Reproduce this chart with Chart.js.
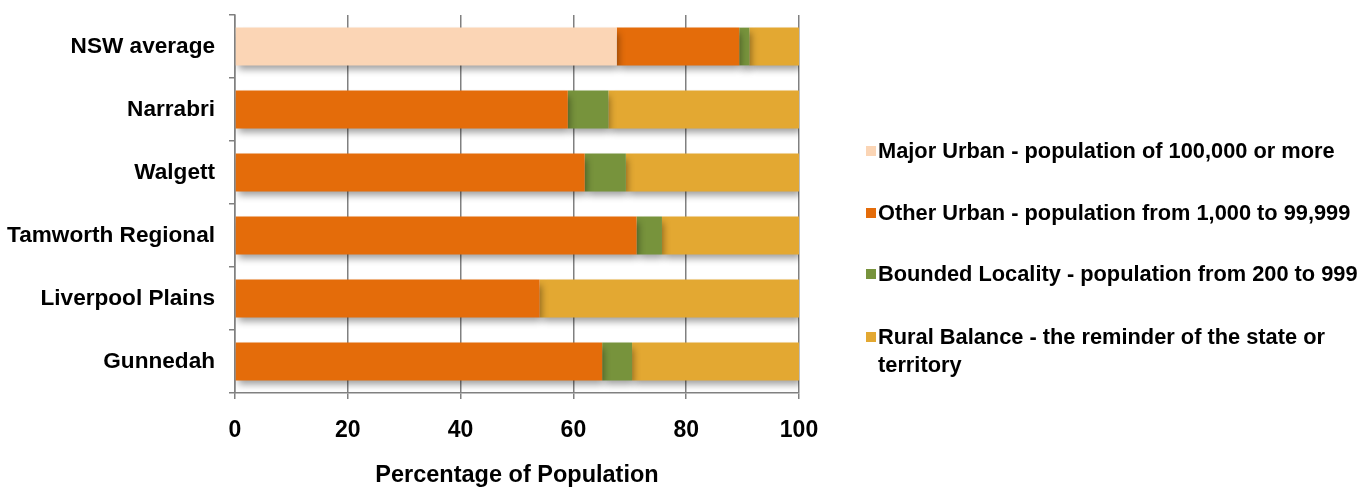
<!DOCTYPE html>
<html>
<head>
<meta charset="utf-8">
<script src="https://cdn.jsdelivr.net/npm/chart.js@4.4.1/dist/chart.umd.min.js"></script>
<style>
  html, body { margin: 0; padding: 0; background: #ffffff; }
  #wrap { position: relative; width: 1368px; height: 490px; overflow: hidden; }
  #chart { position: absolute; left: 0; top: 0; }
  #legend { position: absolute; left: 866px; top: 0; font-family: "Liberation Sans", Arial, sans-serif;
            font-weight: bold; font-size: 21.8px; color: #000; }
  .item { position: absolute; left: 0; width: 480px; line-height: 28px; padding-left: 12px; white-space: normal; }
  .swatch { position: absolute; left: 0; top: 9px; width: 10px; height: 10px; }
</style>
</head>
<body>
<div id="wrap">
  <canvas id="chart" width="1368" height="490"></canvas>
  <div id="legend"></div>
</div>
<script>
// Areas, top to bottom
const areas = ["NSW average", "Narrabri", "Walgett", "Tamworth Regional", "Liverpool Plains", "Gunnedah"];

// Share of population (%) by settlement type
const majorUrban      = [67.7, 0, 0, 0, 0, 0];
const otherUrban      = [21.7, 59.0, 62.0, 71.2, 54.0, 65.1];
const boundedLocality = [1.8, 7.2, 7.3, 4.5, 0, 5.3];
const ruralBalance    = [8.8, 33.8, 30.7, 24.3, 46.0, 29.6];

const seriesNames = [
  "Major Urban - population of 100,000 or more",
  "Other Urban - population from 1,000 to 99,999",
  "Bounded Locality - population from 200 to 999",
  "Rural Balance - the reminder of the state or territory"
];
const seriesColors = ["#FBD5B5", "#E46C0A", "#77933C", "#E3A832"];
const xTicks = [0, 20, 40, 60, 80, 100];

const FONT = "'Liberation Sans', Arial, sans-serif";

// Soft drop shadow under the bars
const barShadow = {
  id: "barShadow",
  beforeDatasetsDraw(chart) {
    const ctx = chart.ctx;
    ctx.save();
    ctx.shadowColor = "rgba(0,0,0,0.38)";
    ctx.shadowBlur = 7;
    ctx.shadowOffsetX = 2;
    ctx.shadowOffsetY = 5;
  },
  afterDatasetsDraw(chart) {
    chart.ctx.restore();
  }
};

const values = [majorUrban, otherUrban, boundedLocality, ruralBalance];
const datasets = values.map((v, i) => ({
  label: seriesNames[i],
  data: v,
  backgroundColor: seriesColors[i],
  borderWidth: 0,
  categoryPercentage: 1.0,
  barPercentage: 0.6
}));

new Chart(document.getElementById("chart"), {
  type: "bar",
  data: { labels: areas, datasets },
  options: {
    indexAxis: "y",
    responsive: false,
    animation: false,
    layout: { padding: { top: 15, right: 569, left: 0, bottom: 0 } },
    plugins: {
      legend: { display: false },
      tooltip: { enabled: false }
    },
    scales: {
      x: {
        stacked: true,
        min: 0,
        max: 100,
        afterBuildTicks(scale) { scale.ticks = xTicks.map(v => ({ value: v })); },
        afterFit(scale) { scale.height = 97; },
        grid: { color: "#808080", lineWidth: 1.5, tickLength: 6, drawTicks: true },
        border: { color: "#808080", width: 1.5 },
        ticks: { color: "#000", padding: 18, font: { family: FONT, size: 23, weight: "bold" } },
        title: {
          display: true,
          text: "Percentage of Population",
          color: "#000",
          font: { family: FONT, size: 23.5, weight: "bold" },
          padding: { top: 0, bottom: 0 }
        }
      },
      y: {
        stacked: true,
        afterFit(scale) {
          scale.width = 235;
          scale.paddingTop = 0;
          scale.paddingBottom = 0;
        },
        grid: { display: true, drawOnChartArea: false, offset: true, color: "#808080", lineWidth: 1.5, tickLength: 6 },
        border: { color: "#808080", width: 1.5 },
        ticks: { color: "#000", padding: 14, font: { family: FONT, size: 22.6, weight: "bold" } }
      }
    }
  },
  plugins: [barShadow]
});

// Legend entries beside the plot
const legendTops = [137, 199, 260, 323];
const legend = document.getElementById("legend");
seriesNames.forEach((name, i) => {
  const item = document.createElement("div");
  item.className = "item";
  item.style.top = legendTops[i] + "px";
  const sw = document.createElement("span");
  sw.className = "swatch";
  sw.style.background = seriesColors[i];
  item.appendChild(sw);
  item.appendChild(document.createTextNode(name));
  legend.appendChild(item);
});
</script>
</body>
</html>
